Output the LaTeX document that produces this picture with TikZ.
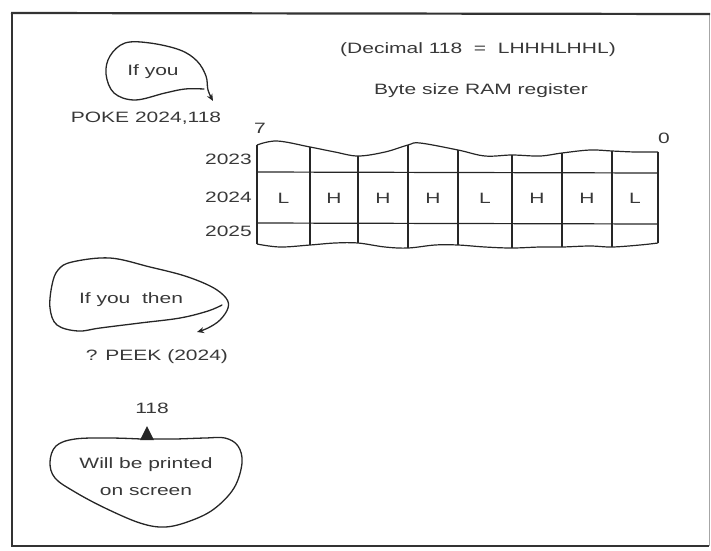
\documentclass[tikz,border=0pt]{standalone}
\usepackage{fontspec}
\setmainfont{Liberation Sans}[FakeStretch=1.4]
\usetikzlibrary{arrows.meta}
\begin{document}
\begin{tikzpicture}[x=1pt,y=-1pt,
  txt/.style={font=\fontsize{15}{18}\selectfont, text=black!78, inner sep=0pt},
  bub/.style={draw=black!85, line width=1.3pt, line join=round, line cap=round},
  gridline/.style={draw=black!85, line width=1.2pt},
  tip/.style={-{Stealth[length=7pt,width=6pt]}}]
\useasboundingbox (0,0) rectangle (711,550);
% frame
\draw[black!80, line width=1.3pt] (12,13) -- (12,546) -- (709,546);
\draw[black!35, line width=1pt] (709,546) -- (709,14);
\draw[black!80, line width=2.2pt] (11,13) -- (710,14);

% top texts
\node[txt] (dec) at (478,50) {(Decimal 118\ \ =\ \ LHHHLHHL)};
\node[txt] (byte) at (481,91) {Byte size RAM register};

% register grid
\draw[gridline] plot[smooth, tension=0.6] coordinates {(257,145) (277,141) (310,147) (335,152) (358,156) (385,152) (408,145) (420,143) (458,150) (485,156) (512,155) (540,156) (562,153) (590,150) (612,151) (635,152) (658,152)};
\draw[gridline] plot[smooth, tension=0.6] coordinates {(257,244) (280,247) (310,245) (335,243) (358,243) (385,247) (408,248) (435,245) (458,245) (485,247) (512,248) (540,247) (562,247) (590,246) (612,247) (640,245) (658,243)};
\draw[gridline] (257,172) -- (658,173);
\draw[gridline] (257,223) -- (658,224);
\foreach \x/\t/\b in {257/145/244, 310/147/245, 358/156/243, 408/145/248, 458/150/245, 512/155/248, 562/153/247, 612/151/247, 658/152/243}
  \draw[gridline] (\x,\t) -- (\x,\b);
\foreach \x/\l [count=\i] in {283.5/L, 334/H, 383/H, 433/H, 485/L, 537/H, 587/H, 635/L}
  \node[txt] (b\i) at (\x,198) {\l};
\node[txt] (n7) at (260,128) {7};
\node[txt] (n0) at (664,138) {0};
\node[txt, anchor=east] (r2023) at (252,159) {2023};
\node[txt, anchor=east] (r2024) at (252,197) {2024};
\node[txt, anchor=east] (r2025) at (252,231) {2025};

% bubble 1
\draw[bub, tip] plot[smooth, tension=0.6] coordinates {(204,89) (185,89) (165,93) (135,100) (114,93) (106,74) (110,56) (125,43) (150,43) (180,50) (197,61) (206,76) (208,90) (213,101)};
\node[txt] (ifyou) at (153,72) {If you};
\node[txt] (poke) at (146,118) {POKE 2024,118};

% bubble 2
\draw[bub, tip] plot[smooth, tension=0.6] coordinates {(222,305) (208,311) (180,318) (140,323) (100,328) (78,331) (57,325) (50,308) (52,285) (58,270) (72,262) (110,258) (150,267) (185,276) (212,287) (226,298) (228,308) (220,320) (208,328) (197,332)};
\node[txt] (then) at (131,300) {If you\ \ then};
\node[txt] (peek) at (157,357) {? PEEK (2024)};

% bubble 3
\node[txt] (n118) at (152,408) {118};
\draw[bub] plot[smooth, tension=0.6] coordinates {(153,439) (175,439) (205,438) (225,438) (238,446) (242,463) (234,488) (214,509) (190,521) (165,527) (140,523) (105,508) (75,492) (55,478) (50,462) (56,446) (75,439) (110,438) (141,439)};
\fill[black!85] (140,440) -- (147,426) -- (154,440) -- cycle;
\node[txt] (will) at (146,465) {Will be printed};
\node[txt] (screen) at (146,492) {on screen};
\end{tikzpicture}
\end{document}
